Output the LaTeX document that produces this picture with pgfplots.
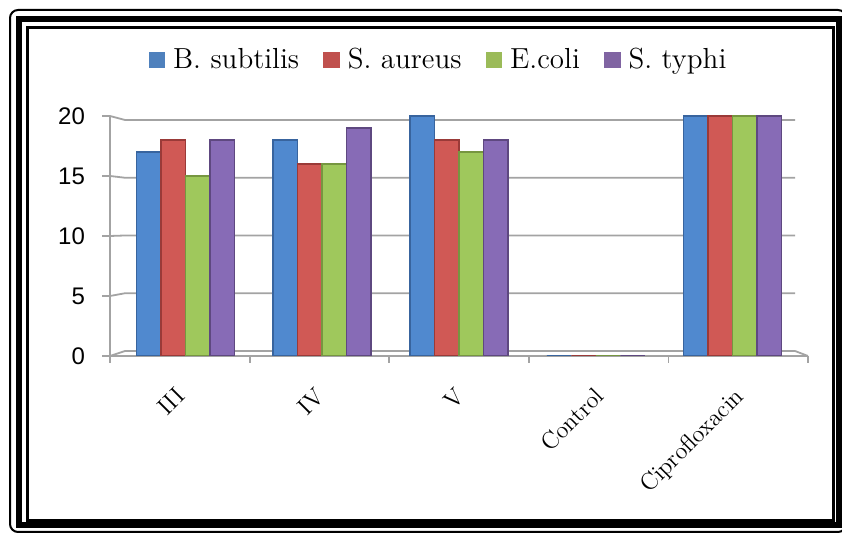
\documentclass[border=0pt]{standalone}
\usepackage{fontspec}
\usepackage{pgfplots}
\pgfplotsset{compat=1.18}
\newfontfamily\arial{Liberation Sans}

\definecolor{gridgray}{HTML}{A3A3A3}
% flat colours for the legend keys
\definecolor{cB}{HTML}{4F81BD}
\definecolor{cR}{HTML}{C0504D}
\definecolor{cG}{HTML}{9BBB59}
\definecolor{cP}{HTML}{8064A2}
% bar body and darker rim
\definecolor{bM}{HTML}{5089CF}\definecolor{bE}{HTML}{38649E}
\definecolor{rM}{HTML}{D05955}\definecolor{rE}{HTML}{9A3A38}
\definecolor{gM}{HTML}{9FC85C}\definecolor{gE}{HTML}{769640}
\definecolor{pM}{HTML}{876BB6}\definecolor{pE}{HTML}{5E4880}

\pgfplotstableread{
x     bs  sa  ec  st
0.04  17  18  15  18
1.02  18  16  16  19
2.00  20  18  17  18
2.98   0   0   0   0
3.96  20  20  20  20
}\zone

\begin{document}
\begin{tikzpicture}
\useasboundingbox (0,0) rectangle (421pt,266.5pt);
% triple border
\draw[line width=1pt, rounded corners=4pt] (5pt,0.5pt) rectangle (423pt,261.5pt);
\draw[line width=3pt] (9.5pt,3.75pt) rectangle (419.25pt,257pt);
\draw[line width=1.25pt] (13.75pt,6.25pt) rectangle (416.75pt,252.75pt);

\begin{axis}[
  at={(55pt,88.5pt)}, anchor=south west,
  scale only axis, width=349pt, height=120pt,
  xmin=-0.5, xmax=4.5, ymin=0, ymax=20,
  axis x line=bottom, axis y line=left,
  axis line style={-, draw=gridgray, line width=0.9pt},
  ytick={0,5,...,20},
  xtick={0,...,4},
  xticklabels={III,IV,V,Control,Ciprofloxacin},
  minor xtick={-0.5,0.5,...,4.5},
  tick align=outside, major tick length=4pt, minor tick length=3.5pt,
  major x tick style={draw=none},
  minor x tick style={draw=gridgray, line width=0.9pt},
  ytick style={draw=gridgray, line width=0.9pt},
  /pgf/number format/assume math mode=true,
  yticklabel style={font=\arial\fontsize{12}{13}\selectfont, xshift=-5pt},
  xticklabel style={font=\fontsize{12}{13}\selectfont, yshift=-6pt, xshift=-2.5pt, rotate=45, anchor=north east},
  ybar=0pt, bar width=12.25pt,
  legend columns=4,
  legend style={draw=none, fill=none, at={(0.472,1.234)}, anchor=center,
    font=\fontsize{14.5}{16}\selectfont,
    /tikz/every even column/.append style={column sep=10pt}},
  legend cell align=left,
]
% back wall gridlines, joined to the front ticks
\foreach \v/\w in {0/0.4167,5/5.229,10/10.042,15/14.854,20/19.667}{
  \edef\tmp{\noexpand\draw[gridgray, line width=0.9pt] (axis cs:-0.5,\v) -- (axis cs:-0.3926,\w) -- (axis cs:4.407,\w);}
  \tmp
}
\draw[gridgray, line width=0.9pt] (axis cs:4.407,0.4167) -- (axis cs:4.5,0);

\addplot[fill=bM, draw=bE, line width=0.8pt,
  legend image code/.code={\fill[cB] (0pt,-3.75pt) rectangle (7.5pt,3.75pt); \path (9.5pt,0pt);}]
  table[x=x, y=bs] {\zone};
\addplot[fill=rM, draw=rE, line width=0.8pt,
  legend image code/.code={\fill[cR] (0pt,-3.75pt) rectangle (7.5pt,3.75pt); \path (9.5pt,0pt);}]
  table[x=x, y=sa] {\zone};
\addplot[fill=gM, draw=gE, line width=0.8pt,
  legend image code/.code={\fill[cG] (0pt,-3.75pt) rectangle (7.5pt,3.75pt); \path (9.5pt,0pt);}]
  table[x=x, y=ec] {\zone};
\addplot[fill=pM, draw=pE, line width=0.8pt,
  legend image code/.code={\fill[cP] (0pt,-3.75pt) rectangle (7.5pt,3.75pt); \path (9.5pt,0pt);}]
  table[x=x, y=st] {\zone};
\legend{B. subtilis, S. aureus, E.coli, S. typhi}
\end{axis}
\end{tikzpicture}
\end{document}
